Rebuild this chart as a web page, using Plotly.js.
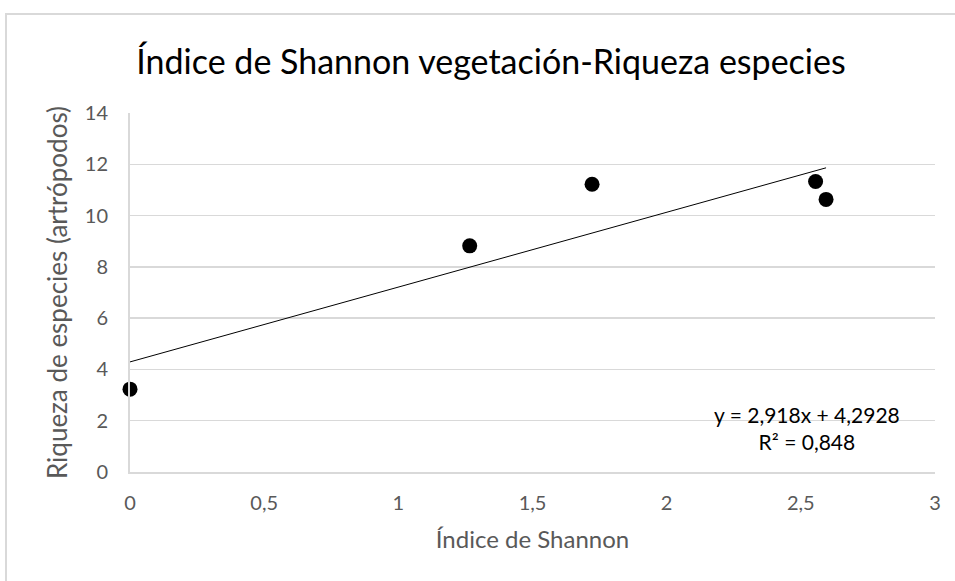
<!DOCTYPE html>
<html><head><meta charset="utf-8">
<script src="https://cdn.plot.ly/plotly-3.0.1.min.js"></script>
<style>
html,body{margin:0;padding:0;overflow:hidden;background:#fff;}
#wrap{position:relative;width:955px;height:581px;}
#frame{position:absolute;left:5px;top:13px;width:1000px;height:620px;border:2px solid #d9d9d9;box-sizing:border-box;pointer-events:none;}
#chart{position:absolute;left:0;top:0;width:955px;height:581px;}
</style></head>
<body>
<div id="wrap"><div id="chart"></div><div id="frame"></div></div>
<script>
const shannon = [0, 1.266, 1.722, 2.555, 2.594];
const riqueza = [3.23, 8.82, 11.22, 11.33, 10.63];
const xTickVals = [0, 0.5, 1, 1.5, 2, 2.5, 3];
const xTickText = ['0', '0,5', '1', '1,5', '2', '2,5', '3'];
const yTickVals = [0, 2, 4, 6, 8, 10, 12, 14];
const slope = 2.918, intercept = 4.2928, r2 = 0.848;

const trendX = [Math.min(...shannon), Math.max(...shannon)];
const trendY = trendX.map(v => slope * v + intercept);

const font = "Lato, 'Open Sans', sans-serif";
const data = [
  {x: trendX, y: trendY, mode: 'lines', type: 'scatter', line: {color: '#000', width: 1}, hoverinfo: 'skip', cliponaxis: false},
  {x: shannon, y: riqueza, mode: 'markers', type: 'scatter', marker: {color: '#000', size: 15}, cliponaxis: false}
];
const layout = {
  width: 955, height: 581,
  margin: {l: 130, r: 20, t: 113, b: 109},
  paper_bgcolor: 'rgba(0,0,0,0)', plot_bgcolor: '#fff',
  showlegend: false,
  font: {family: font, color: '#595959', size: 20},
  title: {text: 'Índice de Shannon vegetación-Riqueza especies', font: {size: 34, color: '#000', family: font}, x: 491/955, xref: 'container', xanchor: 'center', y: 1 - 62/581, yref: 'container', yanchor: 'middle'},
  xaxis: {range: [0, 3], tickvals: xTickVals, ticktext: xTickText, showgrid: false, zeroline: false,
    showline: true, linecolor: '#d9d9d9', linewidth: 2, ticks: 'outside', ticklen: 12, tickcolor: 'rgba(0,0,0,0)',
    tickfont: {size: 20, color: '#595959'},
    title: {text: 'Índice de Shannon', font: {size: 24, color: '#595959'}, standoff: 18}},
  yaxis: {range: [0, 14], tickvals: yTickVals, showgrid: true, gridcolor: '#d9d9d9', gridwidth: 1.5, zeroline: false,
    showline: true, linecolor: '#d9d9d9', linewidth: 2, ticks: 'outside', ticklen: 16, tickcolor: 'rgba(0,0,0,0)',
    tickfont: {size: 20, color: '#595959'},
    title: {text: 'Riqueza de especies (artrópodos)', font: {size: 26, color: '#595959'}, standoff: 10}},
  annotations: [{
    xref: 'paper', yref: 'paper', x: (807-130)/805, y: (472-428)/359, xanchor: 'center', yanchor: 'middle',
    text: 'y = ' + String(slope).replace('.', ',') + 'x + ' + String(intercept).replace('.', ',') + '<br>R² = ' + String(r2).replace('.', ','),
    showarrow: false, font: {size: 21, color: '#000'}, align: 'center'
  }]
};
Plotly.newPlot('chart', data, layout, {displayModeBar: false, staticPlot: true});
</script>
</body></html>
